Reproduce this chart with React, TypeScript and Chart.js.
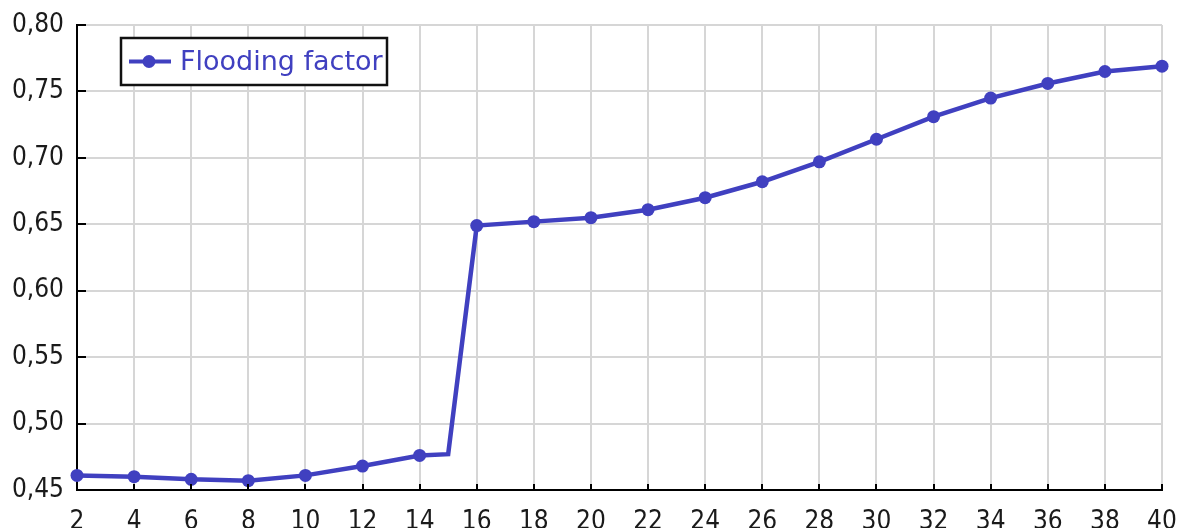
import React, { useEffect, useRef } from 'react';
import { Chart, registerables } from 'chart.js';

Chart.register(...registerables);

const xValues = [2, 4, 6, 8, 10, 12, 14, 15, 16, 18, 20, 22, 24, 26, 28, 30, 32, 34, 36, 38, 40];
const floodingFactor = [
  0.461, 0.460, 0.458, 0.457, 0.461, 0.468, 0.476, 0.477, 0.649, 0.652, 0.655,
  0.661, 0.670, 0.682, 0.697, 0.714, 0.731, 0.745, 0.756, 0.765, 0.769,
];
const unmarkedX = [15];
const seriesLabel = 'Flooding factor';
const xMin = 2;
const xMax = 40;
const xStep = 2;
const yMin = 0.45;
const yMax = 0.8;
const yStep = 0.05;

const LINE_COLOR = '#4040c0';
const TICK_FONT = '"DejaVu Sans Condensed", "DejaVu Sans", sans-serif';
const LEGEND_FONT = '"DejaVu Sans", sans-serif';
const CANVAS_W = 1177;
const CANVAS_H = 545;
const PLOT_BOTTOM = 490;

const decorPlugin = {
  id: 'decor',
  afterDraw(chart: any) {
    const ctx = chart.ctx;
    const area = chart.chartArea;
    const xs = chart.scales.x;
    const ys = chart.scales.y;
    ctx.save();
    // inward tick marks
    ctx.strokeStyle = '#000';
    ctx.lineWidth = 2;
    ys.ticks.forEach((t: any) => {
      const y = Math.round(ys.getPixelForValue(t.value));
      ctx.beginPath();
      ctx.moveTo(area.left, y);
      ctx.lineTo(area.left + 9, y);
      ctx.stroke();
    });
    xs.ticks.forEach((t: any) => {
      const x = Math.round(xs.getPixelForValue(t.value));
      ctx.beginPath();
      ctx.moveTo(x, area.bottom);
      ctx.lineTo(x, area.bottom - 6);
      ctx.stroke();
    });
    // legend box
    const bx = 121, by = 38, bw = 266, bh = 47;
    ctx.fillStyle = '#fff';
    ctx.fillRect(bx, by, bw, bh);
    ctx.lineWidth = 2.5;
    ctx.strokeStyle = '#111';
    ctx.strokeRect(bx, by, bw, bh);
    const cy = by + bh / 2;
    ctx.strokeStyle = LINE_COLOR;
    ctx.lineWidth = 4;
    ctx.beginPath();
    ctx.moveTo(129, cy);
    ctx.lineTo(171, cy);
    ctx.stroke();
    ctx.fillStyle = LINE_COLOR;
    ctx.beginPath();
    ctx.arc(149, cy, 6.5, 0, Math.PI * 2);
    ctx.fill();
    ctx.save();
    ctx.beginPath();
    ctx.rect(bx, by, bw - 1, bh);
    ctx.clip();
    ctx.font = `27px ${LEGEND_FONT}`;
    ctx.textBaseline = 'middle';
    ctx.textAlign = 'left';
    ctx.fillStyle = LINE_COLOR;
    ctx.fillText(seriesLabel, 180, cy + 1);
    ctx.restore();
    ctx.restore();
  },
};

export default function App() {
  const canvasRef = useRef<HTMLCanvasElement | null>(null);

  useEffect(() => {
    document.body.style.margin = '0';
    const canvas = canvasRef.current;
    if (!canvas) return;
    const chart = new Chart(canvas, {
      type: 'line',
      data: {
        datasets: [
          {
            label: seriesLabel,
            data: xValues.map((x, i) => ({ x, y: floodingFactor[i] })),
            borderColor: LINE_COLOR,
            backgroundColor: LINE_COLOR,
            borderWidth: 4.5,
            pointRadius: xValues.map((x) => (unmarkedX.includes(x) ? 0 : 6.5)),
            pointHoverRadius: 0,
            pointBackgroundColor: LINE_COLOR,
            pointBorderWidth: 0,
            tension: 0,
            clip: false as any,
          },
        ],
      },
      options: {
        responsive: false,
        animation: false,
        devicePixelRatio: 1,
        layout: { padding: { top: 25, right: 15, left: 0, bottom: 0 } },
        plugins: {
          legend: { display: false },
          tooltip: { enabled: false },
        },
        scales: {
          x: {
            type: 'linear',
            min: xMin,
            max: xMax,
            ticks: {
              stepSize: xStep,
              padding: 17,
              color: '#1a1a1a',
              font: { family: TICK_FONT, size: 26 },
              maxRotation: 0,
              autoSkip: false,
            },
            grid: { color: '#d6d6d6', lineWidth: 2, drawTicks: false },
            border: { display: true, color: '#000', width: 2 },
            afterFit: (s: any) => {
              s.height = CANVAS_H - PLOT_BOTTOM;
              s.paddingLeft = 0;
              s.paddingRight = 0;
            },
          },
          y: {
            type: 'linear',
            min: yMin,
            max: yMax,
            ticks: {
              stepSize: yStep,
              padding: 13,
              color: '#1a1a1a',
              font: { family: TICK_FONT, size: 26 },
              callback: (v: any) => Number(v).toFixed(2).replace('.', ','),
            },
            grid: { color: '#d6d6d6', lineWidth: 2, drawTicks: false },
            border: { display: true, color: '#000', width: 2 },
            afterFit: (s: any) => {
              s.width = 77;
              s.paddingTop = 0;
              s.paddingBottom = 0;
            },
          },
        },
      },
      plugins: [decorPlugin],
    });
    return () => chart.destroy();
  }, []);

  return (
    <div style={{ width: CANVAS_W, height: 528, overflow: 'hidden', position: 'relative' }}>
      <canvas
        ref={canvasRef}
        width={CANVAS_W}
        height={CANVAS_H}
        style={{ width: CANVAS_W, height: CANVAS_H, display: 'block' }}
      />
    </div>
  );
}
